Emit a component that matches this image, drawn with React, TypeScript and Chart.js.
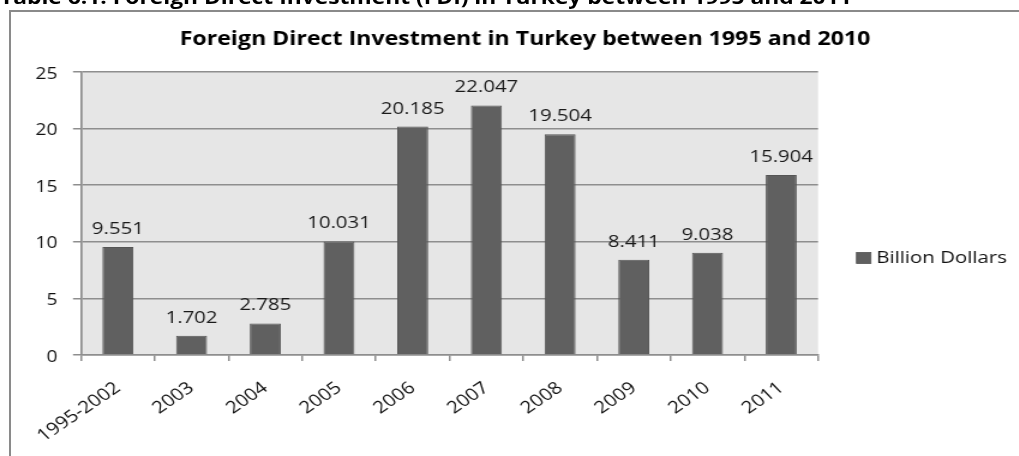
import React, { useEffect, useRef } from 'react';
import { Chart, registerables } from 'chart.js';

Chart.register(...registerables);

const captionText = 'Table 6.1: Foreign Direct Investment (FDI) in Turkey between 1995 and 2011';
const chartTitle = 'Foreign Direct Investment in Turkey between 1995 and 2010';
const seriesLabel = 'Billion Dollars';
const categories = ['1995-2002', '2003', '2004', '2005', '2006', '2007', '2008', '2009', '2010', '2011'];
const fdiValues = [9.551, 1.702, 2.785, 10.031, 20.185, 22.047, 19.504, 8.411, 9.038, 15.904];
const yMin = 0;
const yMax = 25;
const yStep = 5;

const SX = 1.2; // horizontal stretch of the picture
const W = 850;
const H = 456;
const FONT = '"Open Sans", "DejaVu Sans", sans-serif';
const BAR = '#606060';
const GRID = '#8e8e8e';

export default function App() {
  const ref = useRef<HTMLCanvasElement>(null);

  useEffect(() => {
    const canvas = ref.current;
    if (!canvas) return;

    const plotBg = {
      id: 'plotBg',
      beforeDraw(chart: any) {
        const { ctx, chartArea: a } = chart;
        ctx.save();
        ctx.fillStyle = '#e6e6e6';
        ctx.fillRect(a.left, a.top, a.right - a.left, a.bottom - a.top);
        ctx.restore();
      },
    };

    const extras = {
      id: 'extras',
      afterDatasetsDraw(chart: any) {
        const { ctx } = chart;
        const meta = chart.getDatasetMeta(0);
        const data = chart.data.datasets[0].data as number[];
        ctx.save();
        ctx.fillStyle = '#1a1a1a';
        ctx.font = `17px ${FONT}`;
        ctx.textAlign = 'center';
        ctx.textBaseline = 'alphabetic';
        meta.data.forEach((el: any, i: number) => {
          ctx.fillText(data[i].toFixed(3), el.x, el.y - 13);
        });
        ctx.restore();
      },
      afterDraw(chart: any) {
        const { ctx, chartArea: a } = chart;
        ctx.save();
        ctx.fillStyle = '#000';
        ctx.font = `bold 19.3px ${FONT}`;
        ctx.textAlign = 'center';
        ctx.textBaseline = 'middle';
        ctx.fillText(chartTitle, 437.5, 40);
        const lx = a.right + 32;
        ctx.fillStyle = BAR;
        ctx.fillRect(lx, 252.5, 12, 11);
        ctx.strokeStyle = '#555';
        ctx.lineWidth = 0.8;
        ctx.strokeRect(lx, 252.5, 12, 11);
        ctx.fillStyle = '#111';
        ctx.font = `17px ${FONT}`;
        ctx.textAlign = 'left';
        ctx.textBaseline = 'middle';
        ctx.fillText(chart.data.datasets[0].label, lx + 16.5, 258);
        ctx.restore();
      },
    };

    const chart = new Chart(canvas, {
      type: 'bar',
      data: {
        labels: categories,
        datasets: [
          {
            label: seriesLabel,
            data: fdiValues,
            backgroundColor: BAR,
            borderColor: '#555555',
            borderWidth: 1,
            categoryPercentage: 1,
            barPercentage: 0.42,
          },
        ],
      },
      options: {
        responsive: false,
        maintainAspectRatio: false,
        animation: false,
        devicePixelRatio: 1,
        layout: { padding: { left: 0, right: W - 681.7, top: 72, bottom: 0 } },
        plugins: {
          legend: { display: false },
          title: { display: false },
          tooltip: { enabled: false },
        },
        scales: {
          x: {
            afterFit(scale: any) {
              scale.height = H - 355;
            },
            grid: {
              drawOnChartArea: false,
              drawTicks: true,
              tickLength: 6,
              color: GRID,
              lineWidth: 1.5,
            },
            border: { display: true, color: GRID, width: 1.5 },
            ticks: {
              minRotation: 39,
              maxRotation: 39,
              autoSkip: false,
              padding: 17,
              color: '#111',
              font: { family: FONT, size: 17 },
            },
          },
          y: {
            min: yMin,
            max: yMax,
            afterFit(scale: any) {
              scale.width = 67.5;
            },
            grid: {
              drawOnChartArea: true,
              drawTicks: true,
              tickLength: 6.7,
              color: GRID,
              lineWidth: 1.5,
            },
            border: { display: true, color: GRID, width: 1.7 },
            ticks: {
              stepSize: yStep,
              padding: 13,
              color: '#111',
              labelOffset: 2,
              font: { family: FONT, size: 16 },
            },
          },
        },
      },
      plugins: [plotBg, extras],
    });

    return () => chart.destroy();
  }, []);

  return (
    <div
      style={{
        position: 'fixed',
        left: 0,
        top: 0,
        width: 1019,
        height: 456,
        overflow: 'hidden',
        background: '#fff',
      }}
    >
      <div
        style={{
          position: 'absolute',
          left: 9,
          top: 10,
          width: 1100,
          height: 600,
          borderLeft: '2px solid #8a8a8a',
          borderTop: '2px solid #8a8a8a',
        }}
      />
      <div
        style={{
          position: 'absolute',
          left: 0,
          top: 0,
          width: W,
          height: H,
          transform: `scaleX(${SX})`,
          transformOrigin: '0 0',
        }}
      >
        <div
          style={{
            position: 'absolute',
            left: 0,
            top: -12,
            whiteSpace: 'nowrap',
            font: `bold 19px/19px ${FONT}`,
            color: '#000',
          }}
        >
          {captionText}
        </div>
        <canvas ref={ref} width={W} height={H} style={{ position: 'absolute', left: 0, top: 0 }} />
      </div>
    </div>
  );
}
